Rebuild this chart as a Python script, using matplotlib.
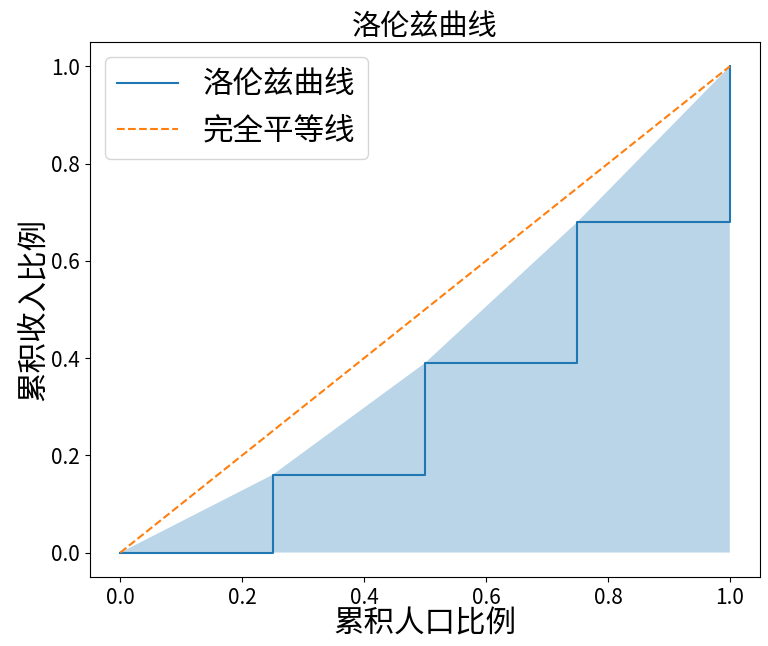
import numpy as np
import matplotlib
matplotlib.use('Agg')
import matplotlib.pyplot as plt

plt.rcParams['font.family'] = ['Noto Sans CJK SC', 'DejaVu Sans']
plt.rcParams['axes.unicode_minus'] = False

# 累积人口比例 / 累积收入比例
pop_share = [0.0, 0.25, 0.5, 0.75, 1.0]
income_share = [0.0, 0.16, 0.39, 0.68, 1.0]
tick_vals = [0.0, 0.2, 0.4, 0.6, 0.8, 1.0]

fig = plt.figure(figsize=(7.68, 6.46), dpi=100)
ax = fig.add_axes([0.117, 0.107, 0.873, 0.828])

ax.step(pop_share, income_share, where='post', label='洛伦兹曲线')
ax.plot([0, 1], [0, 1], '--', label='完全平等线')
ax.fill_between(pop_share, income_share, alpha=0.3)

ax.set_title('洛伦兹曲线', fontsize=21, pad=4)
ax.set_xlabel('累积人口比例', fontsize=22, labelpad=0)
ax.set_ylabel('累积收入比例', fontsize=22, labelpad=2)
ax.set_xticks(tick_vals)
ax.set_yticks(tick_vals)
ax.tick_params(labelsize=15)
ax.legend(fontsize=22, loc='upper left')

fig.savefig('out.png', dpi=100)
